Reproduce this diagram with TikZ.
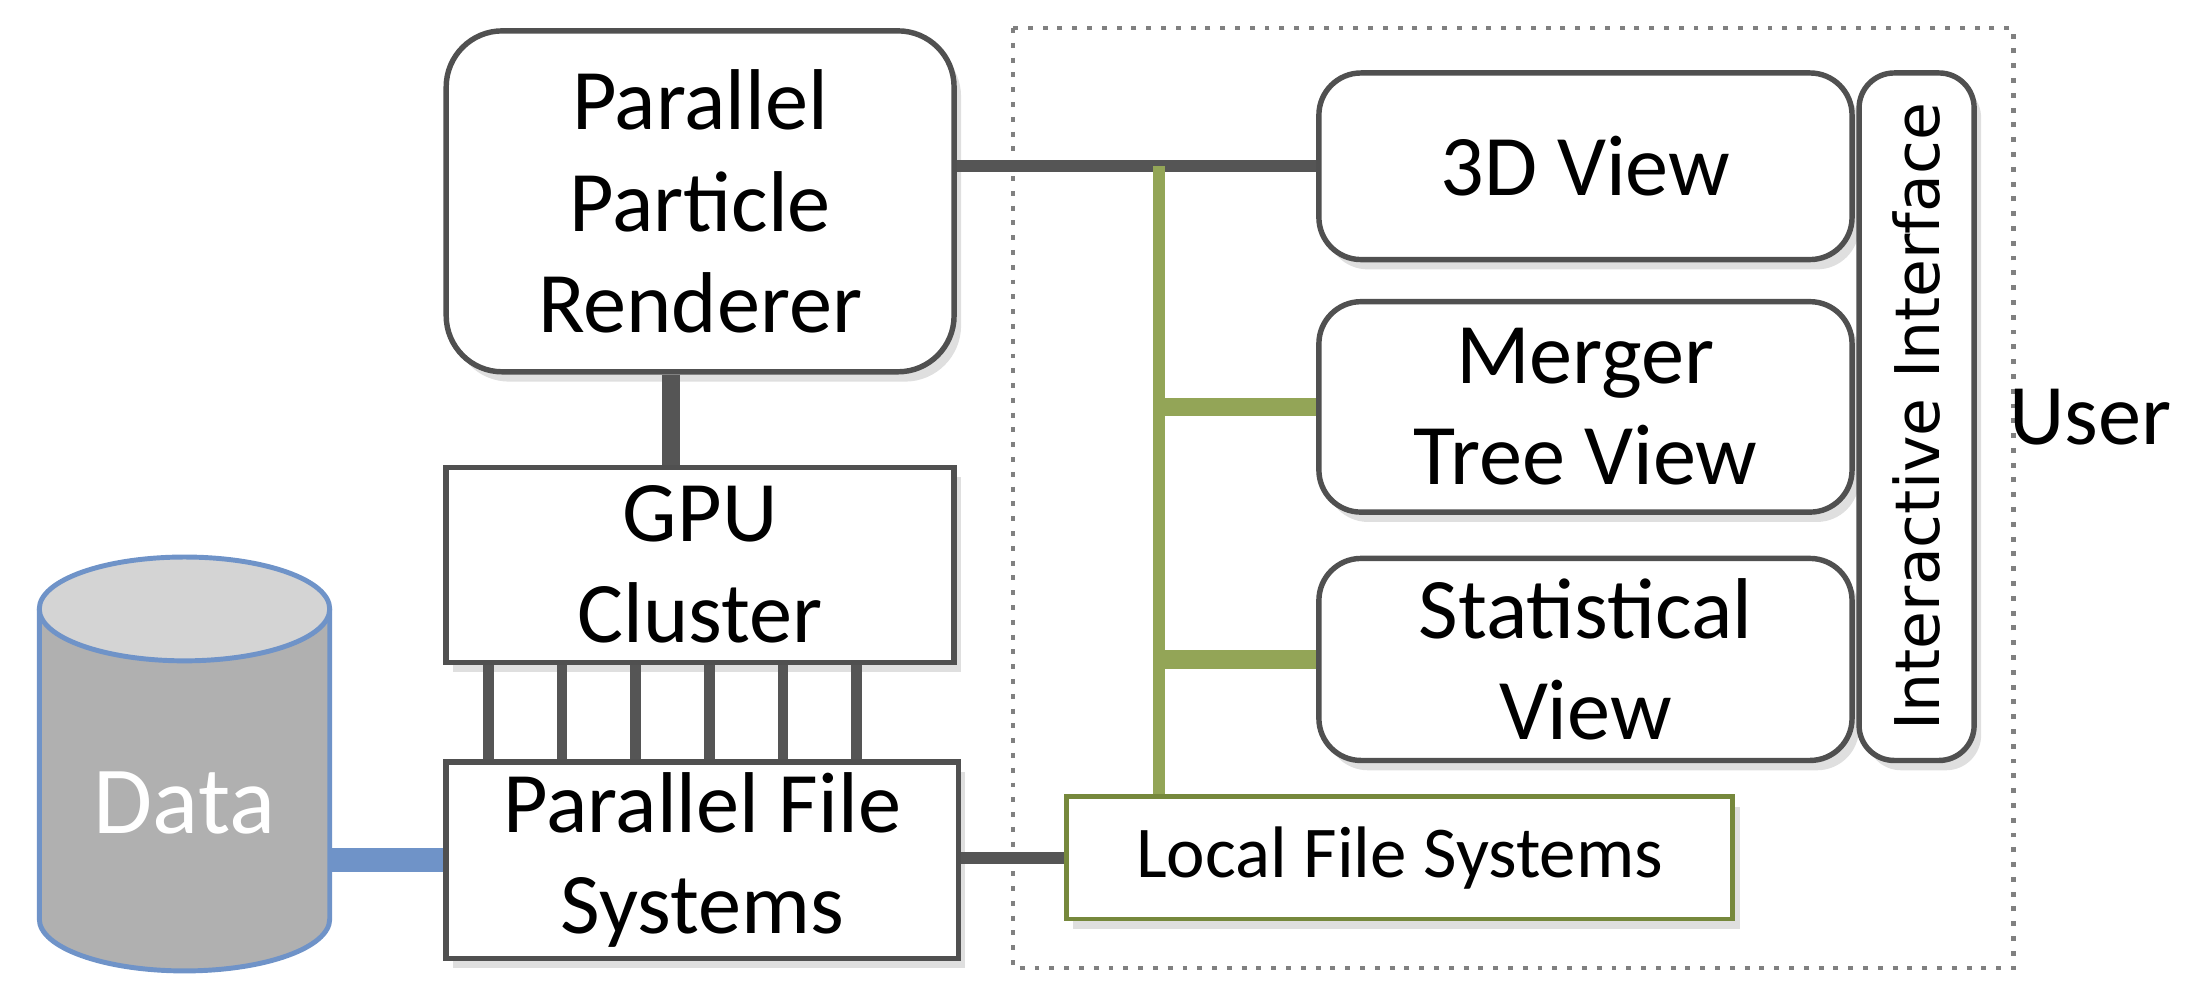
\documentclass[tikz,border=0pt]{standalone}
\usepackage{fontspec}
\setmainfont{Carlito}
\newfontfamily\ifacefont{DejaVu Sans}
\usetikzlibrary{calc,positioning,shapes.geometric,shadows}
\definecolor{linkgray}{HTML}{555555}
\definecolor{boxgray}{HTML}{505050}
\definecolor{busgreen}{HTML}{93A557}
\definecolor{darkolive}{HTML}{76883C}
\definecolor{datablue}{HTML}{6F93C8}
\definecolor{cylgray}{HTML}{B0B0B0}
\definecolor{cyltop}{HTML}{D4D4D4}

\begin{document}
\begin{tikzpicture}[y=-1cm,
    bigtext/.style={font=\fontsize{17.5}{20.5}\selectfont, align=center},
    block/.style={draw=boxgray, line width=1.1pt, fill=white, inner sep=0pt, bigtext,
        drop shadow={opacity=0.25, shadow xshift=0.5mm, shadow yshift=-0.7mm}},
    roundblock/.style={block, rounded corners=3mm},
    darklink/.style={linkgray, line width=2.4pt},
    buslink/.style={linkgray, line width=2.2pt},
    greenbus/.style={busgreen, line width=2.6pt},
    greenbranch/.style={busgreen, line width=3.7pt},
    datalink/.style={datablue, line width=4.8pt}]

    \useasboundingbox (0,0) rectangle (15.68,7.13);

    % user side
    \draw[gray, line width=0.9pt, dash pattern=on 1pt off 2pt] (7.22,0.20) rectangle (14.35,6.90);

    % data store
    \fill[cylgray] (0.28,4.34) -- (0.28,6.55) arc[start angle=180, end angle=0, x radius=1.035, y radius=0.37] -- (2.35,4.34) -- cycle;
    \draw[datablue, line width=1pt] (0.28,4.34) -- (0.28,6.55) arc[start angle=180, end angle=0, x radius=1.035, y radius=0.37] -- (2.35,4.34);
    \draw[datablue, line width=1pt, fill=cyltop] (1.315,4.34) ellipse[x radius=1.035, y radius=0.37];
    \node[white, font=\fontsize{19.5}{22}\selectfont, minimum width=2.07cm, inner sep=0pt] (data) at (1.315,5.72) {Data};

    \node[block, rounded corners=4mm, minimum width=3.62cm, minimum height=2.43cm] (ppr) at (4.99,1.435) {Parallel\\Particle\\Renderer};
    \node[block, minimum width=3.62cm, minimum height=1.39cm] (gpu) at (4.99,4.025) {GPU\\Cluster};
    \node[block, minimum width=3.65cm, minimum height=1.40cm] (pfs) at (5.005,6.13) {Parallel File\\Systems};

    \node[roundblock, minimum width=3.80cm, minimum height=1.33cm] (view3d) at (11.30,1.185) {3D View};
    \node[roundblock, minimum width=3.80cm, minimum height=1.50cm] (merger) at (11.30,2.90) {Merger\\Tree View};
    \node[roundblock, minimum width=3.80cm, minimum height=1.44cm] (stat) at (11.30,4.70) {Statistical\\View};
    \node[roundblock, rounded corners=2.5mm, rotate=90, minimum width=4.90cm, minimum height=0.82cm,
        font=\ifacefont\fontsize{12.5}{14}\selectfont] (iface) at (13.66,2.97) {Interactive Interface};
    \node[block, draw=darkolive, line width=1pt, minimum width=4.75cm, minimum height=0.87cm,
        font=\fontsize{14.8}{17}\selectfont] (lfs) at (9.975,6.115) {Local File Systems};

    \node[bigtext] (user) at (14.90,2.97) {User};

    % links
    \draw[datalink] (data.east |- pfs.west) -- (pfs.west);
    \draw[darklink, line width=3.7pt] ([xshift=-2.1mm]ppr.south) -- ([xshift=-2.1mm]gpu.north);
    \foreach \dx in {0.32,0.845,1.37,1.895,2.42,2.945}
        \draw[buslink] ([xshift=\dx cm]gpu.south west) -- ([xshift=\dx cm]pfs.north west);

    \draw[darklink] (ppr.east |- view3d.west) -- (view3d.west);
    \draw[darklink] (pfs.east |- lfs.west) -- (lfs.west);

    \coordinate (trunk) at (8.26,1.185);
    \draw[greenbus] (trunk) -- (trunk |- lfs.north);
    \draw[greenbranch] (trunk |- merger.west) -- (merger.west);
    \draw[greenbranch] (trunk |- stat.west) -- (stat.west);

\end{tikzpicture}
\end{document}
